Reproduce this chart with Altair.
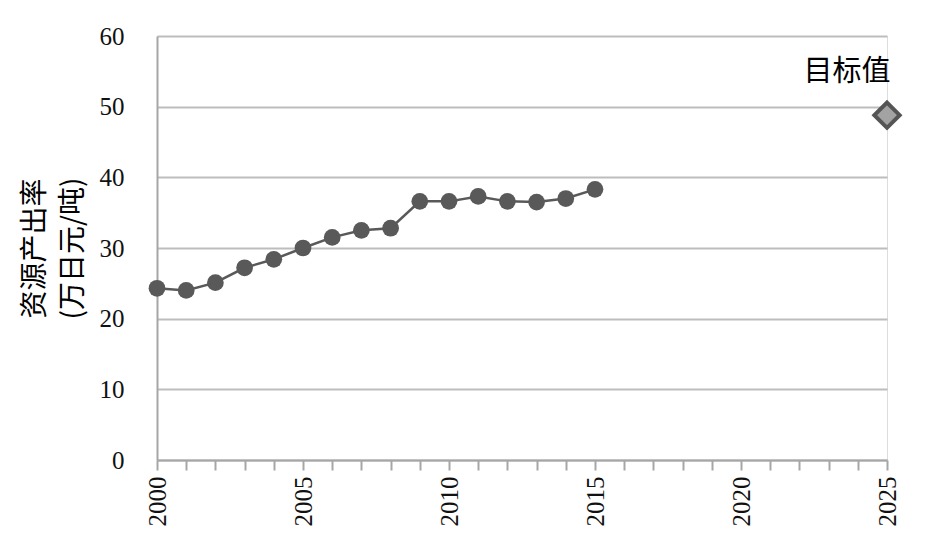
import altair as alt
import pandas as pd

years = list(range(2000, 2016))
values = [24.3, 24.0, 25.1, 27.2, 28.4, 30.0, 31.5, 32.5, 32.8, 36.6, 36.6, 37.3, 36.6, 36.5, 37.0, 38.3]
target_years = [2025]
target_values = [48.8]
target_labels = ["目标值"]
y_title = ["资源产出率", "(万日元/吨)"]
x_ticks = list(range(2000, 2026))

df = pd.DataFrame({"year": years, "value": values})
tdf = pd.DataFrame({"year": target_years, "value": target_values, "label": target_labels})

x_enc = alt.X(
    "year:Q",
    scale=alt.Scale(domain=[2000, 2025], nice=False, zero=False),
    axis=alt.Axis(
        values=x_ticks,
        format="d",
        labelExpr="datum.value % 5 == 0 ? datum.label : ''",
        labelAngle=270,
        labelOverlap=False,
        labelFont="Liberation Serif",
        labelFontSize=25,
        labelColor="#111111",
        labelPadding=6,
        tickSize=10,
        tickColor="#a6a6a6",
        tickWidth=2,
        domainColor="#a6a6a6",
        domainWidth=2,
        grid=False,
        title=None,
    ),
)
y_enc = alt.Y(
    "value:Q",
    scale=alt.Scale(domain=[0, 60], nice=False),
    axis=alt.Axis(
        values=[0, 10, 20, 30, 40, 50, 60],
        ticks=False,
        labelFont="Liberation Serif",
        labelFontSize=25,
        labelColor="#111111",
        labelPadding=33,
        domainColor="#a6a6a6",
        domainWidth=2,
        grid=True,
        gridColor="#bdbdbd",
        gridWidth=2,
        title=y_title,
        titleFont="Noto Sans CJK SC",
        titleFontSize=28,
        titleFontWeight="normal",
        titleColor="#000000",
        titleLineHeight=38,
        titlePadding=12,
    ),
)

base = alt.Chart(df).encode(x=x_enc, y=y_enc)
line = base.mark_line(color="#595959", strokeWidth=2.5)
pts = base.mark_point(filled=True, color="#595959", size=280, opacity=1, shape="circle")

tbase = alt.Chart(tdf).encode(x=x_enc, y=y_enc)
target = tbase.mark_point(
    shape="diamond", filled=True, fill="#a3a3a3", stroke="#555555", strokeWidth=4, size=640, opacity=1
)
label = tbase.mark_text(
    font="Noto Sans CJK SC", fontSize=29, color="#000000", dx=-40, dy=-43
).encode(text="label:N")

chart = alt.layer(line, pts, target, label).properties(
    width=730,
    height=424,
    autosize=alt.AutoSizeParams(type="none"),
    padding={"left": 149, "top": 28, "right": 40, "bottom": 72},
).configure_view(stroke=None).configure(background="white")

chart.save("out.html", embed_options={"renderer": "svg", "actions": False})
